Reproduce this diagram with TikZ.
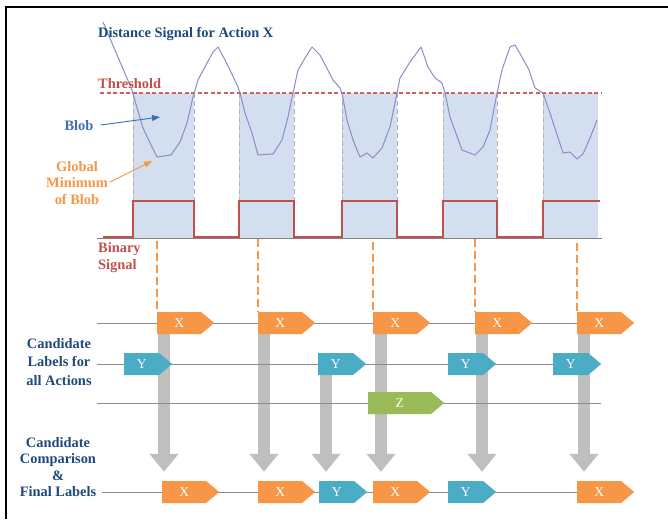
\documentclass[tikz,border=0pt]{standalone}
\usepackage{fontspec}
\setmainfont{Liberation Serif}
\usetikzlibrary{shapes.symbols,arrows.meta}
\definecolor{dkblue}{HTML}{1F497D}
\definecolor{blobblue}{HTML}{3E6FAF}
\definecolor{thred}{HTML}{C0504D}
\definecolor{thline}{HTML}{D0605C}
\definecolor{tagor}{HTML}{F79646}
\definecolor{tagbl}{HTML}{4BACC6}
\definecolor{taggr}{HTML}{9BBB59}
\definecolor{arrgray}{HTML}{BFBFBF}
\definecolor{linegray}{HTML}{8C8C8C}
\definecolor{blobfill}{HTML}{D3DEEE}
\definecolor{sigc}{HTML}{8A8DCB}
\pgfdeclarelayer{bg}
\pgfdeclarelayer{mid}
\pgfsetlayers{bg,mid,main}
\tikzset{
  lbl/.style={font=\fontsize{14.4}{17}\selectfont\bfseries, inner sep=0pt, align=center},
  tagbase/.style={signal, signal to=east, signal pointer angle=80, inner sep=0pt,
    minimum height=22pt, text=white, font=\fontsize{13.5}{13.5}\selectfont, anchor=west},
  xtag/.style={tagbase, fill=tagor, minimum width=57pt},
  ytag/.style={tagbase, fill=tagbl, minimum width=48pt},
  ztag/.style={tagbase, fill=taggr, minimum width=76pt},
  garrow/.style={draw=arrgray, line width=12pt, -{Triangle[width=28pt,length=18pt]}, shorten >=9pt},
  rowline/.style={draw=linegray, line width=1pt},
  odash/.style={draw=tagor, line width=2pt, dash pattern=on 8pt off 4pt},
  blobedge/.style={draw=gray!60, line width=0.8pt, dash pattern=on 5pt off 3pt}
}
\begin{document}
\begin{tikzpicture}[x=1pt,y=-1pt]
\useasboundingbox (0,0) rectangle (668,519);
\begin{pgfonlayer}{bg}
\fill[white] (0,0) rectangle (668,519);
\end{pgfonlayer}
% frame
\draw[line width=2pt] (5.5,519) -- (5.5,7) -- (668,7);
% blobs
\foreach \a/\b in {133/194,239/294,342/397,443/497,543/598}{
  \fill[blobfill] (\a,93) rectangle (\b,238);
}
\foreach \a in {133,194,239,294,342,397,443,497,543}{
  \draw[blobedge] (\a,93) -- (\a,238);
}
% threshold
\draw[draw=thline, line width=1.2pt, dash pattern=on 4pt off 2.5pt] (100,93) -- (602,93);
% baseline
\draw[gray, line width=1pt] (97,238) -- (602,238);
% binary signal
\draw[thred, line width=2.6pt, line join=miter] (103,237) -- (133,237) -- (133,201) -- (194,201) -- (194,237) -- (239,237) -- (239,201) -- (294,201) -- (294,237) -- (342,237) -- (342,201) -- (397,201) -- (397,237) -- (443,237) -- (443,201) -- (497,201) -- (497,237) -- (543,237) -- (543,201) -- (600,201);
% distance signal
\draw[sigc, line width=1pt, line join=round] (103,22) -- (132,90) -- (133,94) -- (143,128) -- (152,147) -- (157,157) -- (171,155) -- (180,142) -- (187,123) -- (193,97) -- (198,80) -- (207,63) -- (213,52) -- (218,47) -- (224,58) -- (230,70) -- (238,87) -- (240,93) -- (245,113) -- (252,133) -- (258,155) -- (273,154) -- (282,140) -- (288,117) -- (293,93) -- (298,70) -- (305,58) -- (312,47) -- (320,55) -- (333,80) -- (340,88) -- (342,93) -- (347,120) -- (353,140) -- (360,157) -- (367,153) -- (373,158) -- (382,148) -- (390,127) -- (397,93) -- (400,78) -- (410,62) -- (421,47) -- (428,67) -- (435,78) -- (442,83) -- (445,93) -- (450,117) -- (462,150) -- (475,155) -- (483,147) -- (490,130) -- (497,93) -- (502,70) -- (510,47) -- (515,45) -- (522,57) -- (529,70) -- (535,88) -- (543,93) -- (550,113) -- (563,153) -- (570,152) -- (577,159) -- (583,154) -- (590,138) -- (597,120);
% minima
\coordinate (m1) at (157,157);
\coordinate (m2) at (258,155);
\coordinate (m3) at (373,158);
\coordinate (m4) at (475,155);
\coordinate (m5) at (577,159);
% top labels
\node[lbl, anchor=west, text=dkblue] (title) at (98,34) {Distance Signal for Action X};
\node[lbl, anchor=west, text=thred] (thr) at (98,84) {Threshold};
\node[lbl, text=blobblue] (blobl) at (79,126) {Blob};
\node[lbl, text=tagor, font=\fontsize{14.4}{16.5}\selectfont\bfseries] (gml) at (77,183) {Global\\Minimum\\of Blob};
\node[lbl, anchor=west, align=left, text=thred] (binl) at (98,257.5) {Binary\\Signal};
\coordinate (blobtip) at (160,117);
\coordinate (gmtip) at (152,161);
\draw[blobblue, line width=0.9pt, shorten <=7pt, -{Triangle[length=8pt,width=6pt]}] (blobl.east) -- (blobtip);
\draw[tagor, line width=0.9pt, shorten <=2pt, -{Triangle[length=8pt,width=6pt]}] (gml.east) -- (gmtip);
% bottom labels
\node[lbl, text=dkblue, font=\fontsize{14.4}{18.5}\selectfont\bfseries] (cand) at (59,362) {Candidate\\Labels for\\all Actions};
\node[lbl, text=dkblue, font=\fontsize{14.4}{16.4}\selectfont\bfseries] (comp) at (58,467) {Candidate\\Comparison\\\&\\Final Labels};
% row start coordinates
\coordinate (rx) at (97,323);
\coordinate (ry) at (97,364);
\coordinate (rz) at (97,403);
\coordinate (rzend) at (601,403);
\coordinate (rf) at (102,492);
% tags
\path
  (157,323) node[xtag] (xa1) {X}
  (258,323) node[xtag] (xa2) {X}
  (373,323) node[xtag] (xa3) {X}
  (475,323) node[xtag] (xa4) {X}
  (577,323) node[xtag] (xa5) {X}
  (124,364) node[ytag] (ya1) {Y}
  (318,364) node[ytag] (ya2) {Y}
  (448,364) node[ytag] (ya3) {Y}
  (553,364) node[ytag] (ya4) {Y}
  (368,403) node[ztag] (za1) {Z}
  (162,492) node[xtag] (fa1) {X}
  (258,492) node[xtag] (fa2) {X}
  (319,492) node[ytag] (fa3) {Y}
  (373,492) node[xtag] (fa4) {X}
  (448,492) node[ytag] (fa5) {Y}
  (577,492) node[xtag] (fa6) {X};
% gray arrows
\coordinate (s1) at ([xshift=7pt]xa1.south west);
\coordinate (s2) at ([xshift=6pt]xa2.south west);
\coordinate (s3) at ([xshift=8pt]ya2.south west);
\coordinate (s4) at ([xshift=8pt]xa3.south west);
\coordinate (s5) at ([xshift=7pt]xa4.south west);
\coordinate (s6) at ([xshift=7pt]xa5.south west);
\begin{pgfonlayer}{bg}
\draw[garrow] (s1) -- (s1 |- fa1.north);
\draw[garrow] (s2) -- (s2 |- fa2.north);
\draw[garrow] (s3) -- (s3 |- fa3.north);
\draw[garrow] (s4) -- (s4 |- fa4.north);
\draw[garrow] (s5) -- (s5 |- fa5.north);
\draw[garrow] (s6) -- (s6 |- fa6.north);
\end{pgfonlayer}
\begin{pgfonlayer}{mid}
\draw[rowline] (rx) -- (xa5.west);
\draw[rowline] (ry) -- (ya4.west);
\draw[rowline] (rz) -- (rzend);
\draw[rowline] (rf) -- (fa6.west);
\draw[odash] (m1) -- (xa1.north west);
\draw[odash] (m2) -- (xa2.north west);
\draw[odash] (m3) -- (xa3.north west);
\draw[odash] (m4) -- (xa4.north west);
\draw[odash] (m5) -- (xa5.north west);
\end{pgfonlayer}
\end{tikzpicture}
\end{document}
